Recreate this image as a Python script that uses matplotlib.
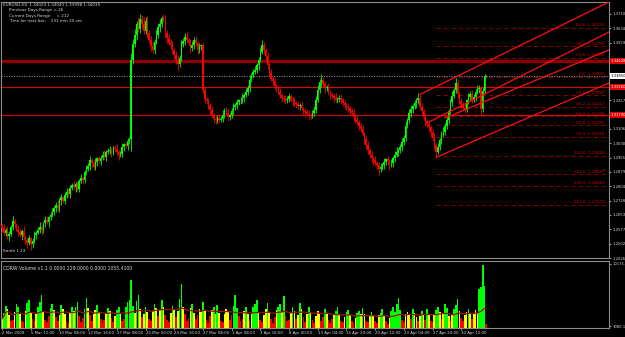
#!/usr/bin/env python3
"""EURUSD H4 chart with channels, fib levels and a volume sub-window (MT4 style)."""

import numpy as np
import pandas as pd
import matplotlib

matplotlib.use("Agg")
import matplotlib.pyplot as plt

# ---------------------------------------------------------------- data
FIRST_OPEN = 1.2600

CLOSE = [
    1.2585, 1.2560, 1.2575, 1.2540, 1.2552, 1.2590, 1.2620, 1.2605, 1.2580, 1.2562,
    1.2548, 1.2570, 1.2535, 1.2520, 1.2505, 1.2530, 1.2498, 1.2515, 1.2545, 1.2560,
    1.2575, 1.2590, 1.2572, 1.2610, 1.2628, 1.2615, 1.2640, 1.2655, 1.2670, 1.2690,
    1.2705, 1.2688, 1.2730, 1.2745, 1.2725, 1.2760, 1.2775, 1.2762, 1.2795, 1.2810,
    1.2800, 1.2815, 1.2790, 1.2830, 1.2845, 1.2835, 1.2880, 1.2895, 1.2910, 1.2940,
    1.2925, 1.2905, 1.2930, 1.2950, 1.2935, 1.2955, 1.2970, 1.2960, 1.2985, 1.2990,
    1.2995, 1.2978, 1.3005, 1.3000, 1.2985, 1.2970, 1.2975, 1.3010, 1.3025, 1.3015,
    1.3040, 1.3050, 1.3470, 1.3550, 1.3600, 1.3655, 1.3630, 1.3685, 1.3660, 1.3620,
    1.3672, 1.3610, 1.3575, 1.3540, 1.3520, 1.3565, 1.3600, 1.3640, 1.3655, 1.3690,
    1.3680, 1.3610, 1.3585, 1.3560, 1.3545, 1.3520, 1.3495, 1.3470, 1.3445, 1.3480,
    1.3550, 1.3570, 1.3590, 1.3575, 1.3560, 1.3530, 1.3545, 1.3575, 1.3555, 1.3520,
    1.3540, 1.3545, 1.3310, 1.3265, 1.3250, 1.3230, 1.3205, 1.3180, 1.3160, 1.3150,
    1.3165, 1.3155, 1.3160, 1.3180, 1.3205, 1.3190, 1.3170, 1.3178, 1.3200, 1.3220,
    1.3230, 1.3245, 1.3255, 1.3258, 1.3270, 1.3285, 1.3300, 1.3320, 1.3365, 1.3390,
    1.3405, 1.3415, 1.3440, 1.3470, 1.3510, 1.3545, 1.3520, 1.3490, 1.3440, 1.3400,
    1.3370, 1.3355, 1.3330, 1.3320, 1.3300, 1.3285, 1.3270, 1.3262, 1.3255, 1.3265,
    1.3278, 1.3260, 1.3250, 1.3240, 1.3235, 1.3225, 1.3230, 1.3215, 1.3200, 1.3195,
    1.3185, 1.3180, 1.3175, 1.3190, 1.3205, 1.3260, 1.3310, 1.3350, 1.3365, 1.3340,
    1.3320, 1.3325, 1.3300, 1.3285, 1.3280, 1.3270, 1.3258, 1.3262, 1.3270, 1.3255,
    1.3240, 1.3230, 1.3220, 1.3215, 1.3200, 1.3190, 1.3170, 1.3155, 1.3140, 1.3120,
    1.3105, 1.3080, 1.3050, 1.3020, 1.2995, 1.2970, 1.2950, 1.2940, 1.2925, 1.2915,
    1.2895, 1.2905, 1.2915, 1.2930, 1.2945, 1.2935, 1.2915, 1.2925, 1.2950, 1.2970,
    1.2985, 1.2995, 1.3010, 1.3035, 1.3060, 1.3120, 1.3150, 1.3190, 1.3210, 1.3225,
    1.3240, 1.3255, 1.3270, 1.3220, 1.3200, 1.3170, 1.3145, 1.3130, 1.3115, 1.3090,
    1.3060, 1.3020, 1.2985, 1.3010, 1.3045, 1.3075, 1.3090, 1.3120, 1.3150, 1.3200,
    1.3245, 1.3280, 1.3310, 1.3345, 1.3290, 1.3250, 1.3230, 1.3215, 1.3205, 1.3255,
    1.3275, 1.3290, 1.3260, 1.3275, 1.3300, 1.3315, 1.3320, 1.3210, 1.3305, 1.3380, 1.3385,
]

# wick lengths in pips
UPPER_WICK = [
    12, 18, 9, 22, 15, 10, 25, 14, 8, 20,
    16, 11, 24, 9, 13, 19, 7, 15, 21, 10,
    14, 26, 12, 8, 17, 22, 10, 13, 19, 9,
    15, 24, 11, 18, 8, 14, 20, 12, 16, 10,
    22, 9, 17, 13, 25, 11, 8, 19, 14, 21,
    10, 16, 23, 9, 15, 12, 18, 26, 11, 14,
    20, 8, 13, 17, 24, 10, 15, 22, 9, 12,
    16, 14, 35, 28, 30, 20, 40, 25, 18, 32,
    22, 27, 15, 19, 30, 16, 24, 21, 28, 12,
    18, 25, 14, 20, 17, 23, 11, 19, 26, 15,
    21, 13, 18, 24, 10, 16, 22, 14, 19, 12,
    17, 9, 20, 15, 11, 18, 13, 21, 10, 16,
    14, 19, 12, 23, 9, 17, 20, 11, 15, 24,
    13, 18, 10, 16, 22, 12, 19, 14, 25, 11,
    17, 21, 13, 15, 20, 28, 16, 12, 18, 10,
    23, 14, 19, 11, 17, 22, 9, 15, 20, 13,
    18, 10, 16, 24, 12, 19, 14, 21, 8, 17,
    13, 20, 11, 15, 22, 18, 25, 16, 28, 12,
    19, 14, 21, 10, 17, 13, 23, 9, 16, 20,
    12, 18, 14, 22, 11, 15, 19, 13, 24, 10,
    17, 21, 9, 16, 20, 12, 18, 14, 23, 11,
    15, 19, 13, 22, 10, 17, 14, 20, 12, 18,
    24, 11, 16, 21, 13, 25, 15, 19, 22, 14,
    18, 12, 26, 15, 20, 11, 17, 13, 21, 9,
    16, 22, 14, 19, 12, 18, 23, 15, 20, 11,
    17, 24, 13, 28, 16, 12, 19, 15, 21, 10,
    18, 14, 22, 12, 17, 20, 15, 9, 19, 14, 3,
]

LOWER_WICK = [
    15, 10, 20, 13, 24, 9, 16, 22, 11, 18,
    12, 25, 14, 19, 28, 10, 30, 17, 12, 21,
    9, 16, 22, 13, 18, 10, 24, 15, 11, 19,
    20, 12, 17, 23, 10, 15, 19, 13, 22, 9,
    16, 24, 12, 18, 11, 21, 14, 17, 10, 20,
    25, 13, 16, 22, 9, 18, 12, 15, 24, 11,
    17, 21, 10, 14, 19, 26, 13, 16, 22, 12,
    18, 15, 60, 22, 16, 25, 14, 20, 28, 17,
    13, 24, 19, 26, 15, 21, 12, 18, 23, 16,
    14, 20, 25, 13, 19, 22, 17, 24, 30, 12,
    18, 15, 21, 11, 17, 23, 14, 19, 12, 20,
    16, 22, 18, 25, 13, 19, 24, 15, 21, 17,
    12, 18, 14, 20, 16, 11, 22, 17, 13, 19,
    15, 21, 12, 18, 14, 23, 10, 16, 20, 13,
    19, 11, 17, 22, 14, 12, 18, 25, 20, 16,
    13, 19, 15, 21, 12, 18, 24, 14, 17, 11,
    20, 15, 22, 13, 18, 16, 21, 12, 19, 25,
    14, 20, 16, 11, 18, 15, 12, 17, 22, 19,
    24, 13, 18, 20, 15, 21, 12, 17, 14, 19,
    16, 22, 13, 18, 20, 15, 23, 17, 12, 21,
    18, 14, 25, 19, 22, 16, 20, 24, 15, 18,
    30, 17, 13, 21, 15, 19, 24, 12, 18, 16,
    14, 20, 17, 22, 13, 18, 12, 15, 21, 19,
    16, 22, 18, 14, 20, 17, 23, 15, 19, 25,
    18, 24, 30, 13, 16, 21, 12, 18, 15, 20,
    14, 19, 12, 17, 22, 16, 21, 15, 18, 13,
    20, 16, 19, 14, 22, 12, 18, 30, 14, 11, 4,
]

VOLUME = [
    3900, 4600, 5400, 5000, 4300, 3600, 3800, 4700, 5600, 5200,
    4400, 3700, 3500, 4800, 5700, 6070, 4600, 3900, 3600, 4500,
    5300, 5800, 6630, 4700, 3800, 3500, 4200, 5100, 5600, 4900,
    4100, 3600, 4300, 5520, 5000, 4400, 3700, 3400, 4600, 5300,
    4800, 5200, 5850, 4200, 3500, 4000, 5000, 6300, 5100, 4300,
    3600, 4400, 4900, 5520, 4700, 3900, 3400, 3800, 4600, 5100,
    4800, 4000, 3500, 4200, 4900, 5300, 4500, 3700, 3900, 5200,
    5800, 6100, 8300, 5400, 4600, 5900, 6630, 5000, 4100, 4500,
    5300, 4700, 3900, 3600, 4800, 5600, 5100, 4200, 4900, 6070,
    5200, 4300, 3800, 3500, 4600, 5400, 5000, 4100, 4800, 6200,
    7850, 5300, 4400, 3700, 4000, 5100, 5600, 4600, 3900, 4300,
    5000, 4700, 5850, 4800, 3800, 3400, 4200, 4900, 5300, 4500,
    5520, 4600, 3700, 3500, 4400, 5000, 4700, 3800, 4300, 5400,
    6600, 5100, 4200, 3600, 3900, 4800, 5300, 4500, 3700, 4400,
    5200, 5600, 6070, 4600, 3800, 3500, 4300, 5000, 5750, 4700,
    3900, 3400, 4100, 4900, 5300, 5600, 4700, 6500, 4200, 3600,
    3800, 4600, 5200, 4800, 3900, 4300, 5750, 5000, 4100, 3500,
    4400, 5300, 4700, 3800, 3400, 4200, 4800, 4500, 3700, 4100,
    4970, 4600, 3800, 3400, 3900, 4500, 4800, 5300, 4400, 3600,
    3500, 4100, 4700, 4900, 4300, 3700, 3400, 4000, 4600, 4800,
    4400, 5100, 4500, 3700, 3500, 4200, 4700, 4300, 3600, 3400,
    4300, 4600, 4970, 4200, 3600, 3300, 4000, 4800, 5200, 4700,
    5600, 6300, 4900, 3800, 3500, 4400, 4700, 4300, 3900, 4970,
    4600, 4100, 3600, 4200, 4800, 4500, 3800, 4970, 4400, 3700,
    3500, 4300, 4900, 5300, 4700, 3900, 4600, 5600, 5100, 4200,
    3700, 4400, 5000, 5500, 6200, 4800, 4000, 3600, 4300, 4700,
    5000, 4600, 3900, 4400, 4900, 4600, 7300, 7600, 10100, 7700, 3300,
]

DATE_LABELS = [
    "2 Mar 2009", "5 Mar 12:00", "10 Mar 08:00", "12 Mar 16:00", "17 Mar 08:00",
    "20 Mar 00:00", "24 Mar 16:00", "27 Mar 08:00", "1 Apr 08:00", "3 Apr 16:00",
    "8 Apr 00:00", "13 Apr 04:00", "15 Apr 20:00", "20 Apr 12:00", "23 Apr 04:00",
    "27 Apr 20:00", "30 Apr 12:00",
]
BARS_PER_LABEL = 16

PRICE_TICK_TOP = 1.37100
PRICE_TICK_STEP = 0.00755
N_PRICE_TICKS = 18

# horizontal levels
LEVEL_DARK = 1.34628
LEVEL_RED = [1.33260, 1.31790]

# fibonacci (anchored on the 27 Apr low)
FIB_START_BAR = 242
FIB_ZERO = 1.33805
FIB_HUNDRED = 1.29648
FIB_LEVELS = [-61.8, -38.2, -23.6, 0.0, 23.6, 38.2, 50.0, 61.8, 76.4, 100.0, 123.6, 138.2, 161.8]

# trend channel lines (bar, price) -> (bar, price)
CHAN_X0 = [232.4, 238.0, 247.0, 242.5]
CHAN_P0 = [1.3284, 1.3142, 1.3163, 1.2958]
CHAN_X1 = [338.4, 338.4, 338.4, 338.4]
CHAN_P1 = [1.3773, 1.3615, 1.3521, 1.3347]

VOL_TOP_LABEL = 10175.5
VOL_BOTTOM_LABEL = 3080.1

HEADER = [
    "EURUSD,H4  1.34023 1.34040 1.33998 1.34035",
    "Previous Days Range = 26",
    "Current Days Range     = 212",
    "Time for next bar:    231 min 30 sec",
]
VOL_TITLE = "CDRW Volume v1.1 0.0000 229.0000 0.0000 1055.4100"

# ---------------------------------------------------------------- styles
W, H = 625, 337
FS = 3.0
SCALE_FS = 2.7
BULL = "#00ff00"
BEAR = "#ff0000"
AXIS_COL = "#8c8c8c"
TEXT_COL = "#d8d8d8"


def px_rect(x0, y0, x1, y1):
    return [x0 / W, 1 - y1 / H, (x1 - x0) / W, (y1 - y0) / H]


def style_axis(ax):
    ax.set_facecolor("black")
    for sp in ax.spines.values():
        sp.set_color(AXIS_COL)
        sp.set_linewidth(0.8)
    ax.tick_params(colors=TEXT_COL, labelsize=SCALE_FS, length=1.5, width=0.5, pad=0.8)


def main():
    assert len(CLOSE) == len(UPPER_WICK) == len(LOWER_WICK) == len(VOLUME)

    closes = np.array(CLOSE)
    opens = np.r_[FIRST_OPEN, closes[:-1]]
    highs = np.maximum(opens, closes) + np.array(UPPER_WICK) * 1e-4
    lows = np.minimum(opens, closes) - np.array(LOWER_WICK) * 1e-4
    idx = np.arange(len(closes))
    colors = np.where(closes >= opens, BULL, BEAR)

    fig = plt.figure(figsize=(W / 100, H / 100), dpi=100, facecolor="black")
    ax = fig.add_axes(px_rect(1, 2, 609, 258))
    axv = fig.add_axes(px_rect(1, 261, 609, 328))
    style_axis(ax)
    style_axis(axv)

    xlim = (-0.6, 338.4)
    ylim = (1.24266, 1.37731)

    # candles
    ax.vlines(idx, lows, highs, colors=colors, linewidth=0.6, zorder=3)
    body = np.where(np.abs(closes - opens) < 0.0002, 0.0002, closes - opens)
    ax.bar(idx, body, bottom=opens, width=0.85, color=colors, linewidth=0, zorder=3)

    # horizontal levels
    ax.axhline(LEVEL_DARK, color="#8e0000", linewidth=2.4, zorder=2)
    for lv in LEVEL_RED:
        ax.axhline(lv, color="#e00000", linewidth=0.8, zorder=2)
    ax.axhline(closes[-1], color="#9a9a9a", linewidth=0.6, linestyle=(0, (1.5, 1.5)), zorder=2)

    # fibonacci levels
    rng = FIB_ZERO - FIB_HUNDRED
    for lvl in FIB_LEVELS:
        price = FIB_ZERO - lvl / 100.0 * rng
        ax.plot([FIB_START_BAR, xlim[1]], [price, price], color="#a00000",
                linewidth=0.6, linestyle=(0, (5, 4)), zorder=2)
        ax.text(336.0, price + 0.0003, f"{abs(lvl):.1f}  {price:.5f}",
                color="#d00000", fontsize=FS, ha="right", va="bottom", zorder=4)

    # channel lines
    for x0, p0, x1, p1 in zip(CHAN_X0, CHAN_P0, CHAN_X1, CHAN_P1):
        ax.plot([x0, x1], [p0, p1], color="#ff1010", linewidth=0.9, zorder=4)

    ax.set_xlim(*xlim)
    ax.set_ylim(*ylim)
    ax.set_xticks([])
    ax.yaxis.tick_right()

    # the boxed labels on the scale hide the plain ticks underneath them
    boxed = [LEVEL_DARK] + LEVEL_RED + [closes[-1]]
    ticks = [PRICE_TICK_TOP - k * PRICE_TICK_STEP for k in range(N_PRICE_TICKS)]
    ticks = [t for t in ticks if min(abs(t - b) for b in boxed) > 0.0025]
    ax.set_yticks(ticks)
    ax.set_yticklabels([f"{t:.5f}" for t in ticks])

    def scale_label(price, fg, bg):
        ax.annotate(f"{price:.5f}", xy=(1.0, price), xycoords=("axes fraction", "data"),
                    xytext=(1.0, 0), textcoords="offset points", ha="left", va="center",
                    fontsize=SCALE_FS, color=fg, annotation_clip=False,
                    bbox=dict(boxstyle="square,pad=0.2", fc=bg, ec="none"))

    scale_label(LEVEL_DARK, "white", "#e00000")
    for lv in LEVEL_RED:
        scale_label(lv, "white", "#e00000")
    scale_label(closes[-1], "black", "white")

    ax.text(0.004, 0.02, "Smith 1.23", transform=ax.transAxes, color=TEXT_COL,
            fontsize=FS, ha="left", va="bottom")

    # volume window
    vol = pd.Series(VOLUME, dtype=float)
    ma = vol.rolling(30, min_periods=1).mean()
    vcol = np.where(vol < 0.92 * ma, "#ff0000", np.where(vol < 1.08 * ma, "#ffff00", "#00ff00"))
    vbottom = 2852.0
    axv.bar(idx, vol - vbottom, bottom=vbottom, width=0.95, color=vcol, linewidth=0)
    axv.plot(idx, ma, color="#a01010", linewidth=0.9)
    axv.set_xlim(*xlim)
    axv.set_ylim(vbottom, 10518.0)
    axv.yaxis.tick_right()
    axv.set_yticks([VOL_BOTTOM_LABEL, VOL_TOP_LABEL])
    axv.set_yticklabels([f"{VOL_BOTTOM_LABEL:.1f}", f"{VOL_TOP_LABEL:.1f}"])
    xt = [k * BARS_PER_LABEL for k in range(len(DATE_LABELS))]
    axv.set_xticks(xt)
    axv.set_xticklabels(DATE_LABELS, fontsize=2.8)
    for lab in axv.get_xticklabels():
        lab.set_ha("left")
    axv.text(0.004, 0.93, VOL_TITLE, transform=axv.transAxes, color=TEXT_COL,
             fontsize=3.3, ha="left", va="top")

    # header block
    fig.text(3 / W, 1 - 5 / H, HEADER[0], color=TEXT_COL, fontsize=FS, va="center")
    for i, line in enumerate(HEADER[1:]):
        fig.text(9 / W, 1 - (10.5 + 5 * i) / H, line, color=TEXT_COL, fontsize=FS, va="center")

    fig.savefig("out.png", dpi=100, facecolor="black")
    plt.close(fig)


if __name__ == "__main__":
    main()
